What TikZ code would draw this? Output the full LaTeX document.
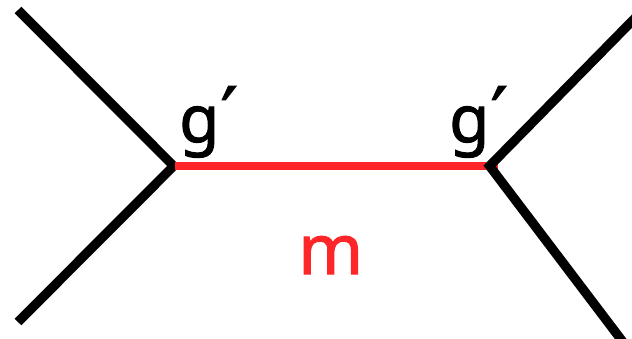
\documentclass[tikz,border=0pt]{standalone}
\usepackage{fontspec}
\setmainfont{Noto Sans}[FakeBold=1.6]
\newfontfamily\primefont{DejaVu Sans}[FakeBold=1.5]
\newcommand{\gprime}{g\hspace{1pt}\raisebox{1pt}{\primefont\fontsize{56}{56}\selectfont ′}}
\definecolor{lred}{RGB}{255,38,42}
\tikzset{
 x=0.75pt,y=-0.75pt,
 leg/.style={line width=7pt,black},
 prop/.style={line width=6pt,lred},
 lab/.style={inner sep=0pt,anchor=base west,font=\fontsize{49}{49}\selectfont},
}
\begin{document}
\begin{tikzpicture}
\useasboundingbox (0,0) rectangle (632,339);
\coordinate (v1) at (173.6,166);
\coordinate (v2) at (489.6,166);
\coordinate (r1) at (175,166);
\coordinate (r2) at (498,166);
\coordinate (a) at (18,10);
\coordinate (b) at (18,322);
\coordinate (c) at (640,13);
\coordinate (d) at (626,346);
\draw[leg,line join=miter] (a) -- (v1) -- (b);
\draw[prop] (r1) -- (r2);
\draw[leg,line join=miter] (c) -- (v2) -- (d);
\node[lab] (g1) at (179,142) {\gprime};
\node[lab] (g2) at (449,142) {\gprime};
\node[lab,text=lred,font=\fontsize{52}{52}\selectfont] (m) at (298,274) {m};
\end{tikzpicture}
\end{document}
